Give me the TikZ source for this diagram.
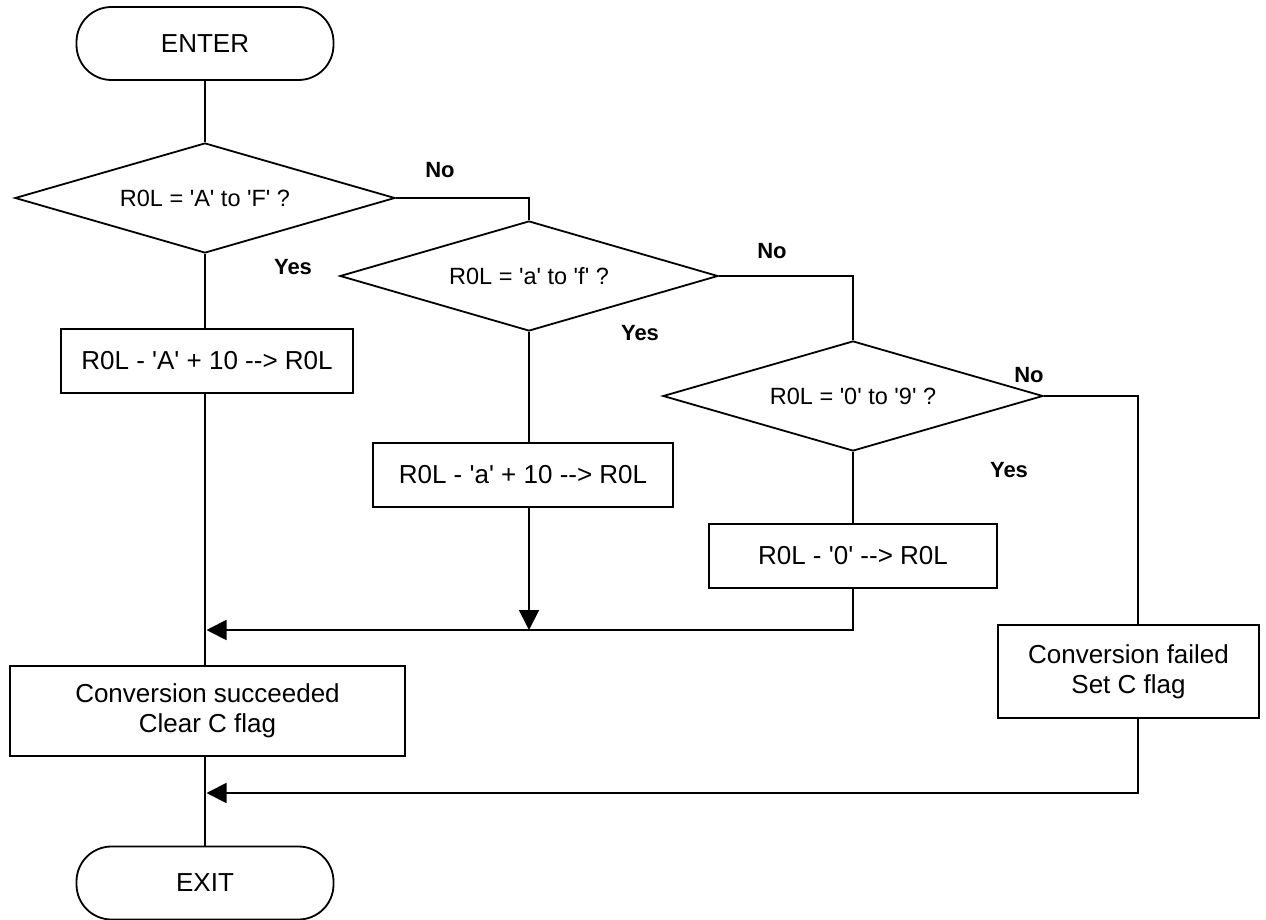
\documentclass[tikz,border=0pt]{standalone}
\usepackage{fontspec}
\setmainfont{Liberation Sans}[Ligatures=TeXOff]
\usetikzlibrary{shapes.geometric,arrows.meta}
\begin{document}
\begin{tikzpicture}[x=1pt,y=-1pt, line width=1.8pt,
 base/.style={draw, inner sep=0pt, font=\fontsize{26}{30}\selectfont, align=center},
 term/.style={base, rounded corners=35pt, minimum width=257pt, minimum height=73pt},
 proc/.style={base, minimum height=64pt},
 dec/.style={base, diamond, aspect=3.45, minimum width=380pt, minimum height=110pt, font=\fontsize{23.5}{28}\selectfont},
 lbl/.style={font=\fontsize{22}{26}\selectfont\bfseries, inner sep=0pt},
 arr/.style={-{Triangle[length=20pt,width=20pt]}}
 ]
\useasboundingbox (0,0) rectangle (1266,920);
\node[term] (enter) at (205,43.5) {ENTER};
\node[dec] (d1) at (205,198) {R0L = 'A' to 'F' ?};
\node[dec, minimum width=378pt] (d2) at (529,276) {R0L = 'a' to 'f' ?};
\node[dec] (d3) at (853,396) {R0L = '0' to '9' ?};
\node[proc, minimum width=292pt] (bA) at (207,361) {R0L - 'A' + 10 --> R0L};
\node[proc, minimum width=300pt] (ba) at (523,475) {R0L - 'a' + 10 --> R0L};
\node[proc, minimum width=288pt] (b0) at (853,556) {R0L - '0' --> R0L};
\node[proc, minimum width=395pt, minimum height=90pt] (succ) at (207.5,711) {Conversion succeeded\\Clear C flag};
\node[proc, minimum width=261pt, minimum height=93pt] (fail) at (1128.5,671.5) {Conversion failed\\Set C flag};
\node[term] (exit) at (205,883) {EXIT};

\coordinate (j1) at (529,198);
\coordinate (j2) at (853,276);
\coordinate (j3) at (1138,396);
\coordinate (m1) at (206.5,630);
\coordinate (m2) at (206.5,793);
\coordinate (m1b) at (529,630);
\coordinate (r0) at (853,630);
\coordinate (rf) at (1138,793);

\draw (enter) -- (d1);
\draw (d1.east) -- (j1) -- (d2.north);
\draw (d2.east) -- (j2) -- (d3.north);
\draw (d3.east) -- (j3) -- (j3 |- fail.north);
\draw (d1.south) -- (d1.south |- bA.north);
\draw (d1.south |- bA.south) -- (d1.south |- succ.north);
\draw (d2.south) -- (d2.south |- ba.north);
\draw[arr] (d2.south |- ba.south) -- (m1b);
\draw (d3.south) -- (d3.south |- b0.north);
\draw[arr] (b0.south) -- (r0) -- (m1);
\draw (succ.south -| exit.north) -- (exit.north);
\draw[arr] (j3 |- fail.south) -- (rf) -- (m2);

\node[lbl] (no1) at (440,170) {No};
\node[lbl] (yes1) at (293,267) {Yes};
\node[lbl] (no2) at (772,251) {No};
\node[lbl] (yes2) at (640,333) {Yes};
\node[lbl] (no3) at (1029,375) {No};
\node[lbl] (yes3) at (1009,470) {Yes};
\end{tikzpicture}
\end{document}
